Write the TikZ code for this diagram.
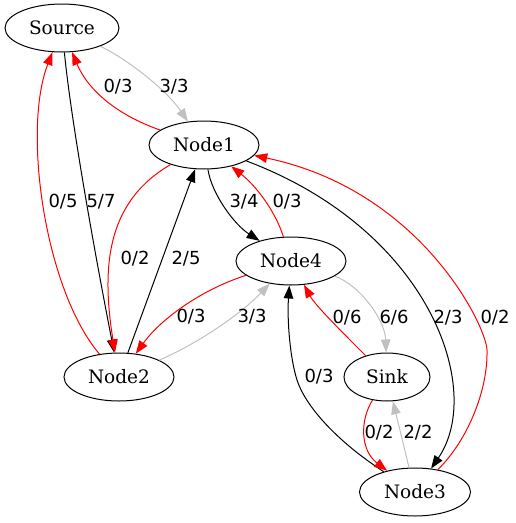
\documentclass[tikz,border=0pt]{standalone}
\usepackage{fontspec}
\setmainfont{DejaVu Serif}
\newfontfamily\flowfont{DejaVu Sans}
\usetikzlibrary{shapes.geometric,arrows.meta}
\definecolor{saturated}{HTML}{C0C0C0}
\begin{document}
\begin{tikzpicture}[x=1pt,y=-1pt,
  state/.style={ellipse,draw,line width=1pt,minimum height=48pt,inner sep=0pt,
    font=\fontsize{18.5}{20}\selectfont},
  flow/.style={line width=1pt,-{Triangle[length=13pt,width=9.5pt]}},
  used/.style={flow,color=black},
  back/.style={flow,color=red},
  full/.style={flow,color=saturated},
  lbl/.style={font=\flowfont\fontsize{18}{20}\selectfont,inner sep=0pt}
]
\useasboundingbox (0,0) rectangle (516,523);

% vertices
\node[state,minimum width=114pt] (src)  at (62,28)   {Source};
\node[state,minimum width=110pt] (n1)   at (204,145) {Node1};
\node[state,minimum width=110pt] (n4)   at (291,261) {Node4};
\node[state,minimum width=110pt] (n2)   at (119,377) {Node2};
\node[state,minimum width=86pt]  (sink) at (387,377) {Sink};
\node[state,minimum width=111pt] (n3)   at (415,492) {Node3};

% residual edges
\draw[full] (src) .. controls (125,58) and (165,88) .. (n1);
\draw[back] (n1) .. controls (125,118) and (90,95) .. (src);
\draw[used] (src) .. controls (72,130) and (100,280) .. (n2);
\draw[back] (n2) .. controls (45,290) and (22,130) .. (src);
\draw[back] (n1) .. controls (110,200) and (100,260) .. (n2);
\draw[used] (n2) -- (n1);
\draw[used] (n1) .. controls (212,195) and (235,225) .. (n4);
\draw[back] (n4) .. controls (275,210) and (255,185) .. (n1);
\draw[back] (n4) .. controls (200,290) and (160,320) .. (n2);
\draw[full] (n2) .. controls (195,345) and (240,315) .. (n4);
\draw[full] (n4) .. controls (360,285) and (385,320) .. (sink);
\draw[back] (sink) .. controls (340,330) and (315,305) .. (n4);
\draw[used] (n3) .. controls (335,440) and (305,405) .. (297,380)
                 .. controls (290,358) and (287,320) .. (n4);
\draw[used] (n1) .. controls (430,230) and (485,390) .. (n3);
\draw[back] (n3) .. controls (468,440) and (488,390) .. (487,350)
                 .. controls (486,325) and (420,190) .. (n1);
\draw[back] (sink) .. controls (360,420) and (360,450) .. (n3);
\draw[full] (n3) -- (sink);

% flow / capacity labels
\node[lbl] (la) at (174,87)  {3/3};
\node[lbl] (lb) at (118,87)  {0/3};
\node[lbl] (lc) at (63,202)  {0/5};
\node[lbl] (ld) at (101,202) {5/7};
\node[lbl] (le) at (135,259) {0/2};
\node[lbl] (lf) at (186,259) {2/5};
\node[lbl] (lg) at (244,202) {3/4};
\node[lbl] (lh) at (287,202) {0/3};
\node[lbl] (li) at (191,317) {0/3};
\node[lbl] (lj) at (252,317) {3/3};
\node[lbl] (lk) at (347,318) {0/6};
\node[lbl] (ll) at (394,318) {6/6};
\node[lbl] (lm) at (448,318) {2/3};
\node[lbl] (ln) at (495,318) {0/2};
\node[lbl] (lo) at (319,377) {0/3};
\node[lbl] (lp) at (379,433) {0/2};
\node[lbl] (lq) at (418,433) {2/2};
\end{tikzpicture}
\end{document}
